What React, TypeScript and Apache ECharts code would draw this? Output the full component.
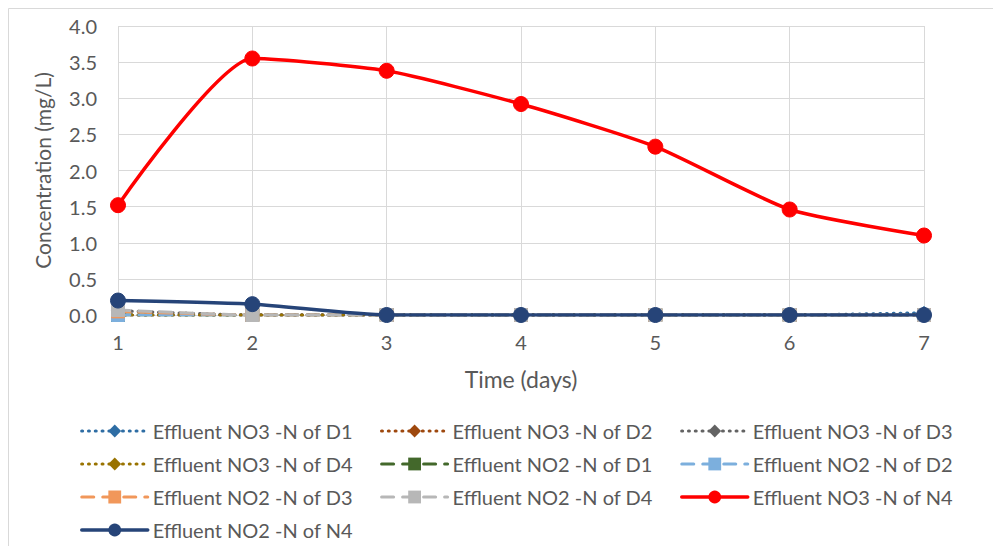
import React, { useEffect, useRef } from "react";
import * as echarts from "echarts";

const days = ["1", "2", "3", "4", "5", "6", "7"];
const yTicks = [0, 0.5, 1, 1.5, 2, 2.5, 3, 3.5, 4];

const no3D1 = [0, 0, 0, 0, 0, 0, 0.03];
const no3D2 = [0, 0, 0, 0, 0, 0, 0];
const no3D3 = [0.06, 0, 0, 0, 0, 0, 0];
const no3D4 = [0, 0, 0, 0, 0, 0, 0];
const no2D1 = [0, 0, 0, 0, 0, 0, 0];
const no2D2 = [0, 0, 0, 0, 0, 0, 0];
const no2D3 = [0.05, 0, 0, 0, 0, 0, 0];
const no2D4 = [0.07, 0, 0, 0, 0, 0, 0];
const no3N4 = [1.52, 3.55, 3.38, 2.92, 2.33, 1.46, 1.1];
const no2N4 = [0.2, 0.15, 0, 0, 0, 0, 0];

const FONT = "Lato";
const TXT = "#595959";

const dotted = [0.8, 6];
const dashed = [12, 9];

type S = { name: string; data: number[]; color: string; dash: any; symbol: string; size: number; width: number };

const seriesDefs: S[] = [
  { name: "Effluent NO3 -N of D1", data: no3D1, color: "#2E6DA4", dash: dotted, symbol: "diamond", size: 13, width: 3.2 },
  { name: "Effluent NO3 -N of D2", data: no3D2, color: "#9E480E", dash: dotted, symbol: "diamond", size: 13, width: 3.2 },
  { name: "Effluent NO3 -N of D3", data: no3D3, color: "#636363", dash: dotted, symbol: "diamond", size: 13, width: 3.2 },
  { name: "Effluent NO3 -N of D4", data: no3D4, color: "#997300", dash: dotted, symbol: "diamond", size: 13, width: 3.2 },
  { name: "Effluent NO2 -N of D1", data: no2D1, color: "#43682B", dash: dashed, symbol: "rect", size: 13, width: 3 },
  { name: "Effluent NO2 -N of D2", data: no2D2, color: "#7CAFDD", dash: dashed, symbol: "rect", size: 13, width: 3 },
  { name: "Effluent NO2 -N of D3", data: no2D3, color: "#F1975A", dash: dashed, symbol: "rect", size: 13, width: 3 },
  { name: "Effluent NO2 -N of D4", data: no2D4, color: "#B7B7B7", dash: dashed, symbol: "rect", size: 13, width: 3 },
  { name: "Effluent NO3 -N of N4", data: no3N4, color: "#FF0000", dash: "solid", symbol: "circle", size: 15, width: 3.5 },
  { name: "Effluent NO2 -N of N4", data: no2N4, color: "#264478", dash: "solid", symbol: "circle", size: 15, width: 3.5 },
];

const legendCols = [
  [0, 3, 6, 9],
  [1, 4, 7],
  [2, 5, 8],
];
const legendLefts = [80, 380, 680];

export default function App() {
  const ref = useRef<HTMLDivElement>(null);
  useEffect(() => {
    if (!ref.current) return;
    const chart = echarts.init(ref.current, undefined, { renderer: "svg" });
    chart.setOption({
      animation: false,
      backgroundColor: "#ffffff",
      textStyle: { fontFamily: FONT },
      graphic: [
        {
          type: "rect",
          shape: { x: 8.5, y: 8.5, width: 1100, height: 700 },
          style: { fill: "none", stroke: "#D9D9D9", lineWidth: 1 },
          silent: true,
          z: -10,
        },
      ],
      grid: { left: 118, right: 69, top: 26, bottom: 231, containLabel: false },
      legend: legendCols.map((col, i) => ({
        orient: "vertical",
        left: legendLefts[i],
        top: 421,
        height: 125,
        padding: 0,
        itemWidth: 66,
        itemHeight: 16,
        itemGap: 13,
        data: col.map((k) => ({
          name: seriesDefs[k].name,
          lineStyle: { color: seriesDefs[k].color, width: seriesDefs[k].width, type: seriesDefs[k].dash, cap: "round" },
        })),
        textStyle: { fontFamily: FONT, fontSize: 20, color: TXT, lineHeight: 20 },
      })),
      xAxis: {
        type: "category",
        data: days,
        boundaryGap: false,
        axisLine: { show: true, lineStyle: { color: "#D9D9D9", width: 1 } },
        axisTick: { show: false },
        splitLine: { show: true, lineStyle: { color: "#D9D9D9", width: 1 } },
        axisLabel: { color: TXT, fontSize: 20, fontFamily: FONT, margin: 17 },
        name: "Time (days)",
        nameLocation: "middle",
        nameGap: 52,
        nameTextStyle: { color: TXT, fontSize: 23, fontFamily: FONT },
      },
      yAxis: {
        type: "value",
        min: yTicks[0],
        max: yTicks[yTicks.length - 1],
        interval: 0.5,
        axisLine: { show: false },
        axisTick: { show: false },
        splitLine: { show: true, lineStyle: { color: "#D9D9D9", width: 1 } },
        axisLabel: { color: TXT, fontSize: 20, fontFamily: FONT, margin: 21, formatter: (v: number) => v.toFixed(1) },
        name: "Concentration (mg/L)",
        nameLocation: "middle",
        nameGap: 65,
        nameTextStyle: { color: TXT, fontSize: 21, fontFamily: FONT },
      },
      series: seriesDefs.map((s) => ({
        name: s.name,
        type: "line",
        data: s.data,
        symbol: s.symbol,
        symbolSize: s.size,
        showSymbol: true,
        smooth: 0.2,
        itemStyle: { color: s.color, borderColor: s.color },
        lineStyle: { color: s.color, width: s.width, type: s.dash, cap: "round" },
        emphasis: { disabled: true },
      })),
    });
    return () => chart.dispose();
  }, []);
  return (
    <div
      ref={ref}
      style={{ position: "absolute", left: 0, top: 0, width: 993, height: 546 }}
    />
  );
}
